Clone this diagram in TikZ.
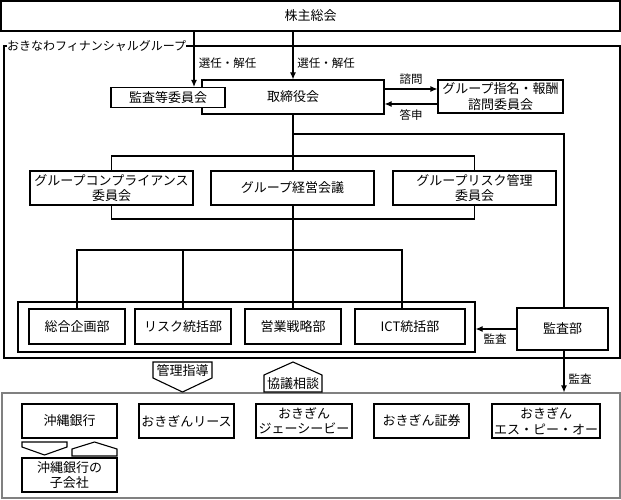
\documentclass[tikz,border=0pt]{standalone}
\usepackage{fontspec}
\newfontfamily\jp{Noto Sans CJK JP}
\usetikzlibrary{arrows.meta}
\begin{document}
\begin{tikzpicture}[x=1pt,y=-1pt,
  ln/.style={line width=1.1pt},
  bx/.style={draw, line width=1.1pt, fill=white, inner sep=0pt, align=center, font=\jp\fontsize{13}{15.5}\selectfont},
  lbl/.style={inner sep=0pt, font=\jp\fontsize{11.5}{13}\selectfont},
  arr/.style={ln, -{Latex[length=7pt,width=6pt]}},
  frame/.style={draw, line width=1.1pt, inner sep=0pt},
  shp/.style={line width=1.1pt, fill=white},
]
\useasboundingbox (0,0) rectangle (621,500);
% helper coordinates
\coordinate (xa) at (194,0);
\coordinate (xb) at (293,0);
\coordinate (xr) at (564,0);
\coordinate (dl4) at (402,0);
\coordinate (y89) at (0,89);
\coordinate (y104) at (0,104);
\coordinate (bt) at (0,156);
\coordinate (bb) at (0,219);
\coordinate (dy) at (0,250);
\coordinate (br) at (293,134);

% frames
\node[frame, minimum width=616pt, minimum height=312pt] (grp) at (312,202) {};
\node[inner sep=0pt, fill=white, anchor=west, font=\jp\fontsize{12}{14}\selectfont] (grplabel) at (7,46) {おきなわフィナンシャルグループ};
\node[frame, draw=black!50, minimum width=618pt, minimum height=105pt] (sub) at (311,445.5) {};
\node[frame, minimum width=457pt, minimum height=50pt] (dept) at (246.5,327) {};

% top
\node[bx, minimum width=619pt, minimum height=30pt] (kabu) at (310.5,16) {株主総会};
\node[bx, minimum width=182pt, minimum height=34pt] (torishimari) at (293,97) {取締役会};
\node[bx, minimum width=114pt, minimum height=20pt] (kansatou) at (168,97.5) {監査等委員会};
\node[bx, minimum width=125pt, minimum height=33pt] (shimei) at (500.5,96.5) {グループ指名・報酬\\諮問委員会};

% committees
\node[bx, minimum width=163pt, minimum height=34pt] (comp) at (111.5,188) {グループコンプライアンス\\委員会};
\node[bx, minimum width=163pt, minimum height=34pt] (keiei) at (292.5,188) {グループ経営会議};
\node[bx, minimum width=163pt, minimum height=34pt] (risk) at (474.5,188) {グループリスク管理\\委員会};

% departments
\node[bx, minimum width=96pt, minimum height=35pt] (sougou) at (77,326.5) {総合企画部};
\node[bx, minimum width=96pt, minimum height=35pt] (riskdept) at (183,326.5) {リスク統括部};
\node[bx, minimum width=96pt, minimum height=35pt] (eigyo) at (293,326.5) {営業戦略部};
\node[bx, minimum width=110pt, minimum height=35pt] (ict) at (410,326.5) {ICT統括部};
\node[bx, minimum width=91pt, minimum height=42pt] (kansabu) at (562.5,329) {監査部};

% subsidiaries
\node[bx, minimum width=95pt, minimum height=34pt] (okinawa) at (69.5,421) {沖縄銀行};
\node[bx, minimum width=95pt, minimum height=34pt] (lease) at (186.5,421) {おきぎんリース};
\node[bx, minimum width=96pt, minimum height=34pt] (jcb) at (304,421) {おきぎん\\ジェーシービー};
\node[bx, minimum width=95pt, minimum height=34pt] (shoken) at (421.5,421) {おきぎん証券};
\node[bx, minimum width=108pt, minimum height=34pt] (spo) at (546,421) {おきぎん\\エス・ピー・オー};
\node[bx, minimum width=95pt, minimum height=34pt] (kogaisha) at (69.5,475) {沖縄銀行の\\子会社};

% connectors
\draw[arr] (kabu.south -| xa) -- (kansatou.north -| xa);
\draw[arr] (kabu.south -| xb) -- (torishimari.north -| xb);
\node[lbl] (sen1) at (227.5,63) {選任・解任};
\node[lbl] (sen2) at (326,63) {選任・解任};
\draw[arr] (torishimari.east |- y89) -- (shimei.west |- y89);
\draw[arr] (shimei.west |- y104) -- (torishimari.east |- y104);
\node[lbl] (shimon) at (411,79) {諮問};
\node[lbl] (toshin) at (411,115) {答申};

\draw[ln] (torishimari.south -| xb) -- (keiei.north -| xb);
\draw[ln] (keiei.south -| xb) -- (eigyo.north -| xb);
\draw[ln] (br) -| (kansabu.north -| xr);
\draw[ln] (comp.north) -- (comp.north |- bt) -- (risk.north |- bt) -- (risk.north);
\draw[ln] (comp.south) -- (comp.south |- bb) -- (risk.south |- bb) -- (risk.south);
\draw[ln] (sougou.north) -- (sougou.north |- dy) -- (dl4 |- dy) -- (dl4 |- ict.north);
\draw[ln] (riskdept.north |- dy) -- (riskdept.north);

\draw[arr] (kansabu.west) -- (dept.east |- kansabu.west);
\node[lbl] (kansa1) at (495,339) {監査};
\draw[arr] (kansabu.south -| xr) -- (sub.north -| xr);
\node[lbl] (kansa2) at (580,379) {監査};

% guidance / consultation shapes
\draw[shp] (153,362) -- (212,362) -- (212,378) -- (182.5,392) -- (153,378) -- cycle;
\node[bx, draw=none, fill=none] (kanri) at (182.5,370.5) {管理指導};
\draw[shp] (264,392) -- (264,375) -- (293,362) -- (322,375) -- (322,392) -- cycle;
\node[bx, draw=none, fill=none] (kyougi) at (293,383.5) {協議相談};

\draw[shp] (22,442) -- (67,442) -- (67,447) -- (44.5,455) -- (22,447) -- cycle;
\draw[shp] (72,456) -- (72,449) -- (94.5,442) -- (117,449) -- (117,456) -- cycle;
\end{tikzpicture}
\end{document}
